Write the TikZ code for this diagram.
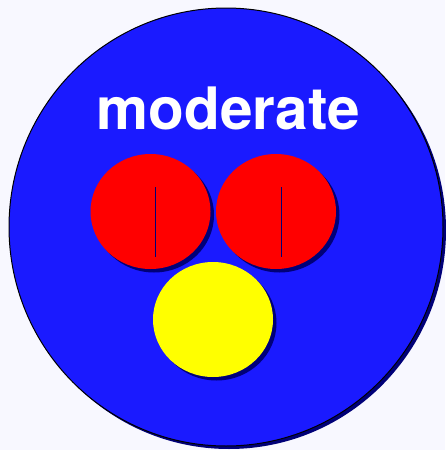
\documentclass[tikz,border=0pt]{standalone}
\usepackage{fontspec}
\setmainfont{TeX Gyre Heros}
\usetikzlibrary{shapes.geometric, shadows, calc}
\definecolor{bgcol}{RGB}{248,248,255}
\definecolor{discblue}{RGB}{26,26,255}
\definecolor{shadenavy}{RGB}{0,0,120}
\definecolor{discred}{RGB}{255,0,0}
\definecolor{discyellow}{RGB}{255,255,0}
\begin{document}
\begin{tikzpicture}[x=1pt,y=-1pt]

        % Style definitions
        \tikzstyle{disc} = [ellipse, inner sep=0pt, minimum width=120pt, minimum height=115pt,
            drop shadow={fill=shadenavy, opacity=1, shadow xshift=3.5pt, shadow yshift=-3.5pt}]

        % Background
        \fill[bgcol] (0,0) rectangle (445,450);
        \useasboundingbox (0,0) rectangle (445,450);

        % Outer disc
        \node[ellipse, draw=black, line width=1pt, fill=discblue, inner sep=0pt,
            minimum width=434pt, minimum height=438pt,
            drop shadow={fill=shadenavy, opacity=1, shadow xshift=3pt, shadow yshift=-3pt}]
            (outer) at (226,227) {};

        % Title
        \node[text=white, font=\bfseries\fontsize{58.5}{61}\selectfont, anchor=base]
            (title) at (228.5,129) {moderate};

        % Inner discs
        \node[disc, fill=discred] (redL) at (150.5,211.5) {};
        \node[disc, fill=discred] (redR) at (276,211.5) {};
        \node[disc, fill=discyellow] (yel) at (213,319.5) {};

        % Marks on the red discs
        \draw[shadenavy, line width=0.7pt] ($(redL.center)+(5,-24.5)$) -- ($(redL.center)+(5,45.5)$);
        \draw[shadenavy, line width=0.7pt] ($(redR.center)+(5,-24.5)$) -- ($(redR.center)+(5,45.5)$);

\end{tikzpicture}
\end{document}
